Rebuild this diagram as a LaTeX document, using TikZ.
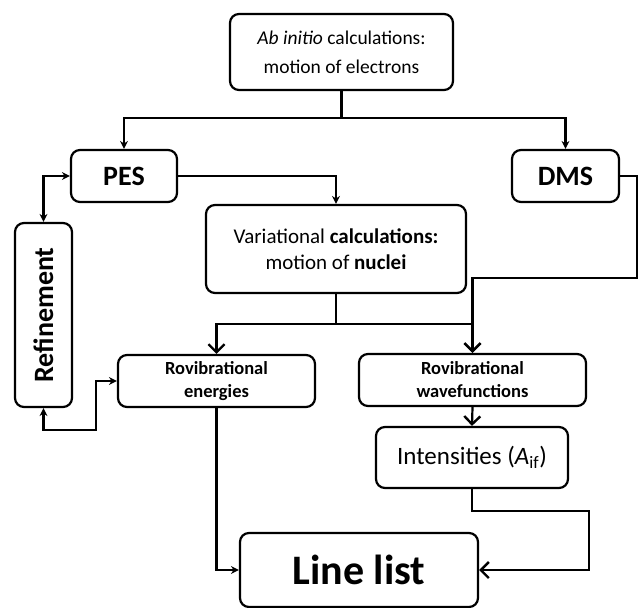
\documentclass[tikz,border=0pt]{standalone}
\usepackage{fontspec}
\setmainfont{Carlito}
\usetikzlibrary{arrows.meta}
\begin{document}
\begin{tikzpicture}[x=1pt,y=-1pt,
  box/.style={draw, line width=2.2pt, rounded corners=9pt, inner sep=0pt, align=center},
  line/.style={line width=2.2pt},
  fa/.style={line width=2.2pt, -{Stealth[length=8pt,width=8pt]}},
  fab/.style={line width=2.2pt, {Stealth[length=8pt,width=8pt]}-{Stealth[length=8pt,width=8pt]}},
  va/.style={line width=2.2pt, -{Straight Barb[length=8pt,width=16pt,line width=2.4pt]}},
  txs/.style={font=\fontsize{19.5}{29}\selectfont},
  txm/.style={font=\fontsize{21}{26}\selectfont},
  txl/.style={font=\fontsize{28}{32}\selectfont\bfseries},
  txr/.style={font=\fontsize{18.5}{23}\selectfont\bfseries}
]
\useasboundingbox (0,0) rectangle (638,608);
\node[box, txs, minimum width=223pt, minimum height=76pt] (top) at (341.5,52) {\textit{Ab initio} calculations:\\motion of electrons};
\node[box, txl, minimum width=106pt, minimum height=52pt] (pes) at (124,176) {PES};
\node[box, txl, minimum width=107pt, minimum height=52pt] (dms) at (565.5,176) {DMS};
\node[box, txm, minimum width=260pt, minimum height=88pt] (var) at (336,249) {Variational \textbf{calculations:}\\motion of \textbf{nuclei}};
\node[box, txr, minimum width=197pt, minimum height=52pt] (ene) at (216.5,381) {Rovibrational\\energies};
\node[box, txr, minimum width=227pt, minimum height=52pt] (wav) at (472.5,380) {Rovibrational\\wavefunctions};
\node[box, txl, rotate=90, minimum width=184pt, minimum height=57pt] (ref) at (43.5,315) {Refinement};
\node[box, font=\fontsize{25}{28}\selectfont, minimum width=192pt, minimum height=61pt] (int) at (472,457.5) {Intensities (\textit{A}$_{\mathrm{if}}$)};
\node[box, font=\fontsize{42}{46}\selectfont\bfseries, minimum width=238pt, minimum height=74pt] (ll) at (359,570) {Line list};

\coordinate (j1) at (341.5,118);
\draw[line] (top.south) -- (j1);
\draw[fa] (j1) -| (pes.north);
\draw[fa] (j1) -| (dms.north);
\draw[fa] (pes.east) -| (var.north);
\coordinate (d1) at (637,176);
\coordinate (d2) at (637,278);
\draw[va] (dms.east) -- (d1) -- (d2) -| (wav.north);
\coordinate (j2) at (336,324);
\draw[line] (var.south) -- (j2);
\draw[va] (j2) -| (ene.north);
\draw[va] (j2) -| (wav.north);
\draw[fab] (pes.west) -| (ref.east);
\coordinate (r1) at (96,430);
\draw[fab] (ref.west) |- (r1) |- (ene.west);
\draw[va] (wav.south) -- (int.north);
\coordinate (i1) at (472,511);
\coordinate (i2) at (589,511);
\draw[va] (int.south) -- (i1) -- (i2) |- (ll.east);
\draw[fa] (ene.south) |- (ll.west);
\end{tikzpicture}
\end{document}
